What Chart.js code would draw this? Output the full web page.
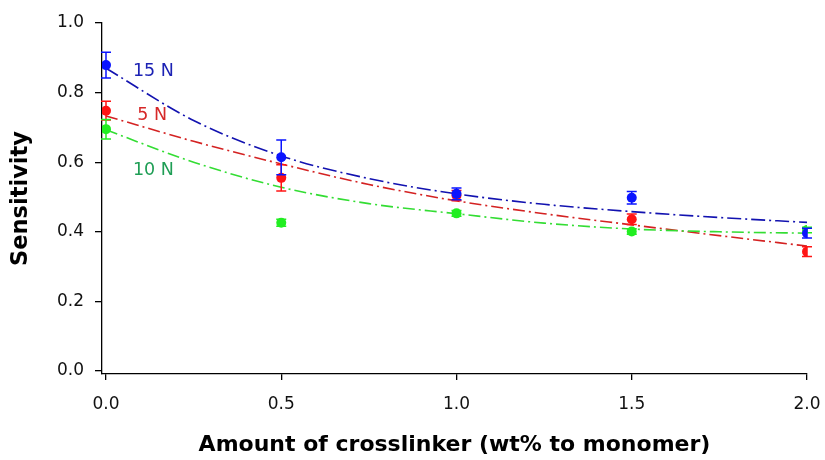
<!DOCTYPE html>
<html>
<head>
<meta charset="utf-8">
<script src="https://cdn.jsdelivr.net/npm/chart.js@4.4.1/dist/chart.umd.min.js"></script>
<style>
  html, body { margin: 0; padding: 0; background: #fff; }
  #box { width: 825px; height: 460px; }
</style>
</head>
<body>
<div id="box"><canvas id="sensChart"></canvas></div>
<script>
// data titik (rata-rata dan error bar)
var crosslinker = [0, 0.5, 1.0, 1.5, 2.0];
var sens5N  = [0.748, 0.555, 0.504, 0.436, 0.343];
var err5N   = [0.027, 0.038, 0.015, 0.015, 0.014];
var sens10N = [0.695, 0.426, 0.453, 0.401, 0.405];
var err10N  = [0.028, 0.010, 0.008, 0.008, 0.008];
var sens15N = [0.879, 0.614, 0.509, 0.498, 0.396];
var err15N  = [0.037, 0.050, 0.017, 0.018, 0.014];

// kurva fitting
var fitX    = [0, 0.25, 0.5, 0.75, 1.0, 1.25, 1.5, 1.75, 2.0];
var fit5N   = [0.733, 0.660, 0.595, 0.536, 0.489, 0.452, 0.420, 0.389, 0.359];
var fit10N  = [0.693, 0.600, 0.528, 0.481, 0.452, 0.425, 0.408, 0.400, 0.396];
var fit15N  = [0.870, 0.720, 0.618, 0.553, 0.509, 0.479, 0.458, 0.441, 0.427];

// label beban
var loadLabels = ['15 N', '5 N', '10 N'];
var loadLabelX = [0.077, 0.089, 0.077];
var loadLabelY = [0.862, 0.734, 0.576];
var loadColors = ['#1c22b4', '#d62828', '#1f9e55'];

var xTicks = [0, 0.5, 1.0, 1.5, 2.0];
var yTicks = [0, 0.2, 0.4, 0.6, 0.8, 1.0];

function pts(xs, ys) {
    return xs.map(function (x, i) { return { x: x, y: ys[i] }; });
}

// order kecil = digambar paling atas
function fitLine(label, ys, color, dash, order) {
    return {
        type: 'line', label: label, data: pts(fitX, ys), order: order,
        borderColor: color, borderWidth: 1.6, borderDash: dash,
        pointRadius: 0, fill: false, cubicInterpolationMode: 'monotone'
    };
}

function dots(label, ys, errs, color, order) {
    return {
        type: 'scatter', label: label, data: pts(crosslinker, ys), errors: errs, order: order,
        backgroundColor: color, borderColor: color, pointRadius: 5, pointBorderWidth: 0
    };
}

// error bar vertikal dengan cap
var errorBars = {
    id: 'errorBars',
    afterDatasetDraw: function (chart, args) {
        var ds = chart.data.datasets[args.index];
        if (!ds.errors) return;
        var ctx = chart.ctx, xs = chart.scales.x, ys = chart.scales.y;
        ctx.save();
        ctx.strokeStyle = ds.borderColor;
        ctx.lineWidth = 1.5;
        ds.data.forEach(function (p, i) {
            var px = xs.getPixelForValue(p.x);
            var top = ys.getPixelForValue(p.y + ds.errors[i]);
            var bot = ys.getPixelForValue(p.y - ds.errors[i]);
            ctx.beginPath();
            ctx.moveTo(px, top); ctx.lineTo(px, bot);
            ctx.moveTo(px - 5, top); ctx.lineTo(px + 5, top);
            ctx.moveTo(px - 5, bot); ctx.lineTo(px + 5, bot);
            ctx.stroke();
        });
        ctx.restore();
    }
};

var curveLabels = {
    id: 'curveLabels',
    afterDraw: function (chart) {
        var ctx = chart.ctx, xs = chart.scales.x, ys = chart.scales.y;
        ctx.save();
        ctx.font = '17.5px "DejaVu Sans"';
        ctx.textAlign = 'left';
        ctx.textBaseline = 'middle';
        loadLabels.forEach(function (t, i) {
            ctx.fillStyle = loadColors[i];
            ctx.fillText(t, xs.getPixelForValue(loadLabelX[i]), ys.getPixelForValue(loadLabelY[i]));
        });
        ctx.restore();
    }
};

var ctx = document.getElementById('sensChart').getContext('2d');
var myChart = new Chart(ctx, {
    data: {
        datasets: [
            fitLine('fit 5 N', fit5N, '#d42222', [12, 4, 2, 4], 5),
            fitLine('fit 10 N', fit10N, '#33dd33', [12, 4, 2, 4], 4),
            fitLine('fit 15 N', fit15N, '#1212b0', [14, 4, 2, 4], 3),
            dots('5 N', sens5N, err5N, '#ff1414', 2),
            dots('10 N', sens10N, err10N, '#22ee22', 1),
            dots('15 N', sens15N, err15N, '#0a14ff', 0)
        ]
    },
    options: {
        responsive: true,
        maintainAspectRatio: false,
        animation: false,
        layout: { padding: { top: 23, right: 18, left: 0, bottom: 0 } },
        plugins: { legend: { display: false }, tooltip: { enabled: false } },
        scales: {
            x: {
                type: 'linear', min: -0.0114, max: 2.0,
                afterBuildTicks: function (s) { s.ticks = xTicks.map(function (v) { return { value: v }; }); },
                afterFit: function (s) { s.height = 86; s.paddingLeft = 0; s.paddingRight = 0; },
                border: { display: true, color: '#000', width: 1.3 },
                grid: { display: true, drawOnChartArea: false, drawTicks: true, tickLength: 6, color: '#000', lineWidth: 1.3 },
                ticks: {
                    padding: 14, color: '#111',
                    font: { family: '"DejaVu Sans"', size: 17 },
                    callback: function (v) { return v.toFixed(1); }
                },
                title: {
                    display: true, text: 'Amount of crosslinker (wt% to monomer)', color: '#000',
                    font: { family: '"DejaVu Sans"', size: 22, weight: 'bold' },
                    padding: { top: 0, bottom: 2 }
                }
            },
            y: {
                type: 'linear', min: -0.0086, max: 1.0,
                afterBuildTicks: function (s) { s.ticks = yTicks.map(function (v) { return { value: v }; }); },
                afterFit: function (s) { s.width = 102; s.paddingTop = 0; s.paddingBottom = 0; },
                border: { display: true, color: '#000', width: 1.3 },
                grid: { display: true, drawOnChartArea: false, drawTicks: true, tickLength: 7, color: '#000', lineWidth: 1.3 },
                ticks: {
                    padding: 11, color: '#111',
                    font: { family: '"DejaVu Sans"', size: 17 },
                    callback: function (v) { return v.toFixed(1); }
                },
                title: {
                    display: true, text: 'Sensitivity', color: '#000',
                    font: { family: '"DejaVu Sans"', size: 22.5, weight: 'bold' },
                    padding: { top: 8, bottom: 0 }
                }
            }
        }
    },
    plugins: [errorBars, curveLabels]
});
</script>
</body>
</html>
